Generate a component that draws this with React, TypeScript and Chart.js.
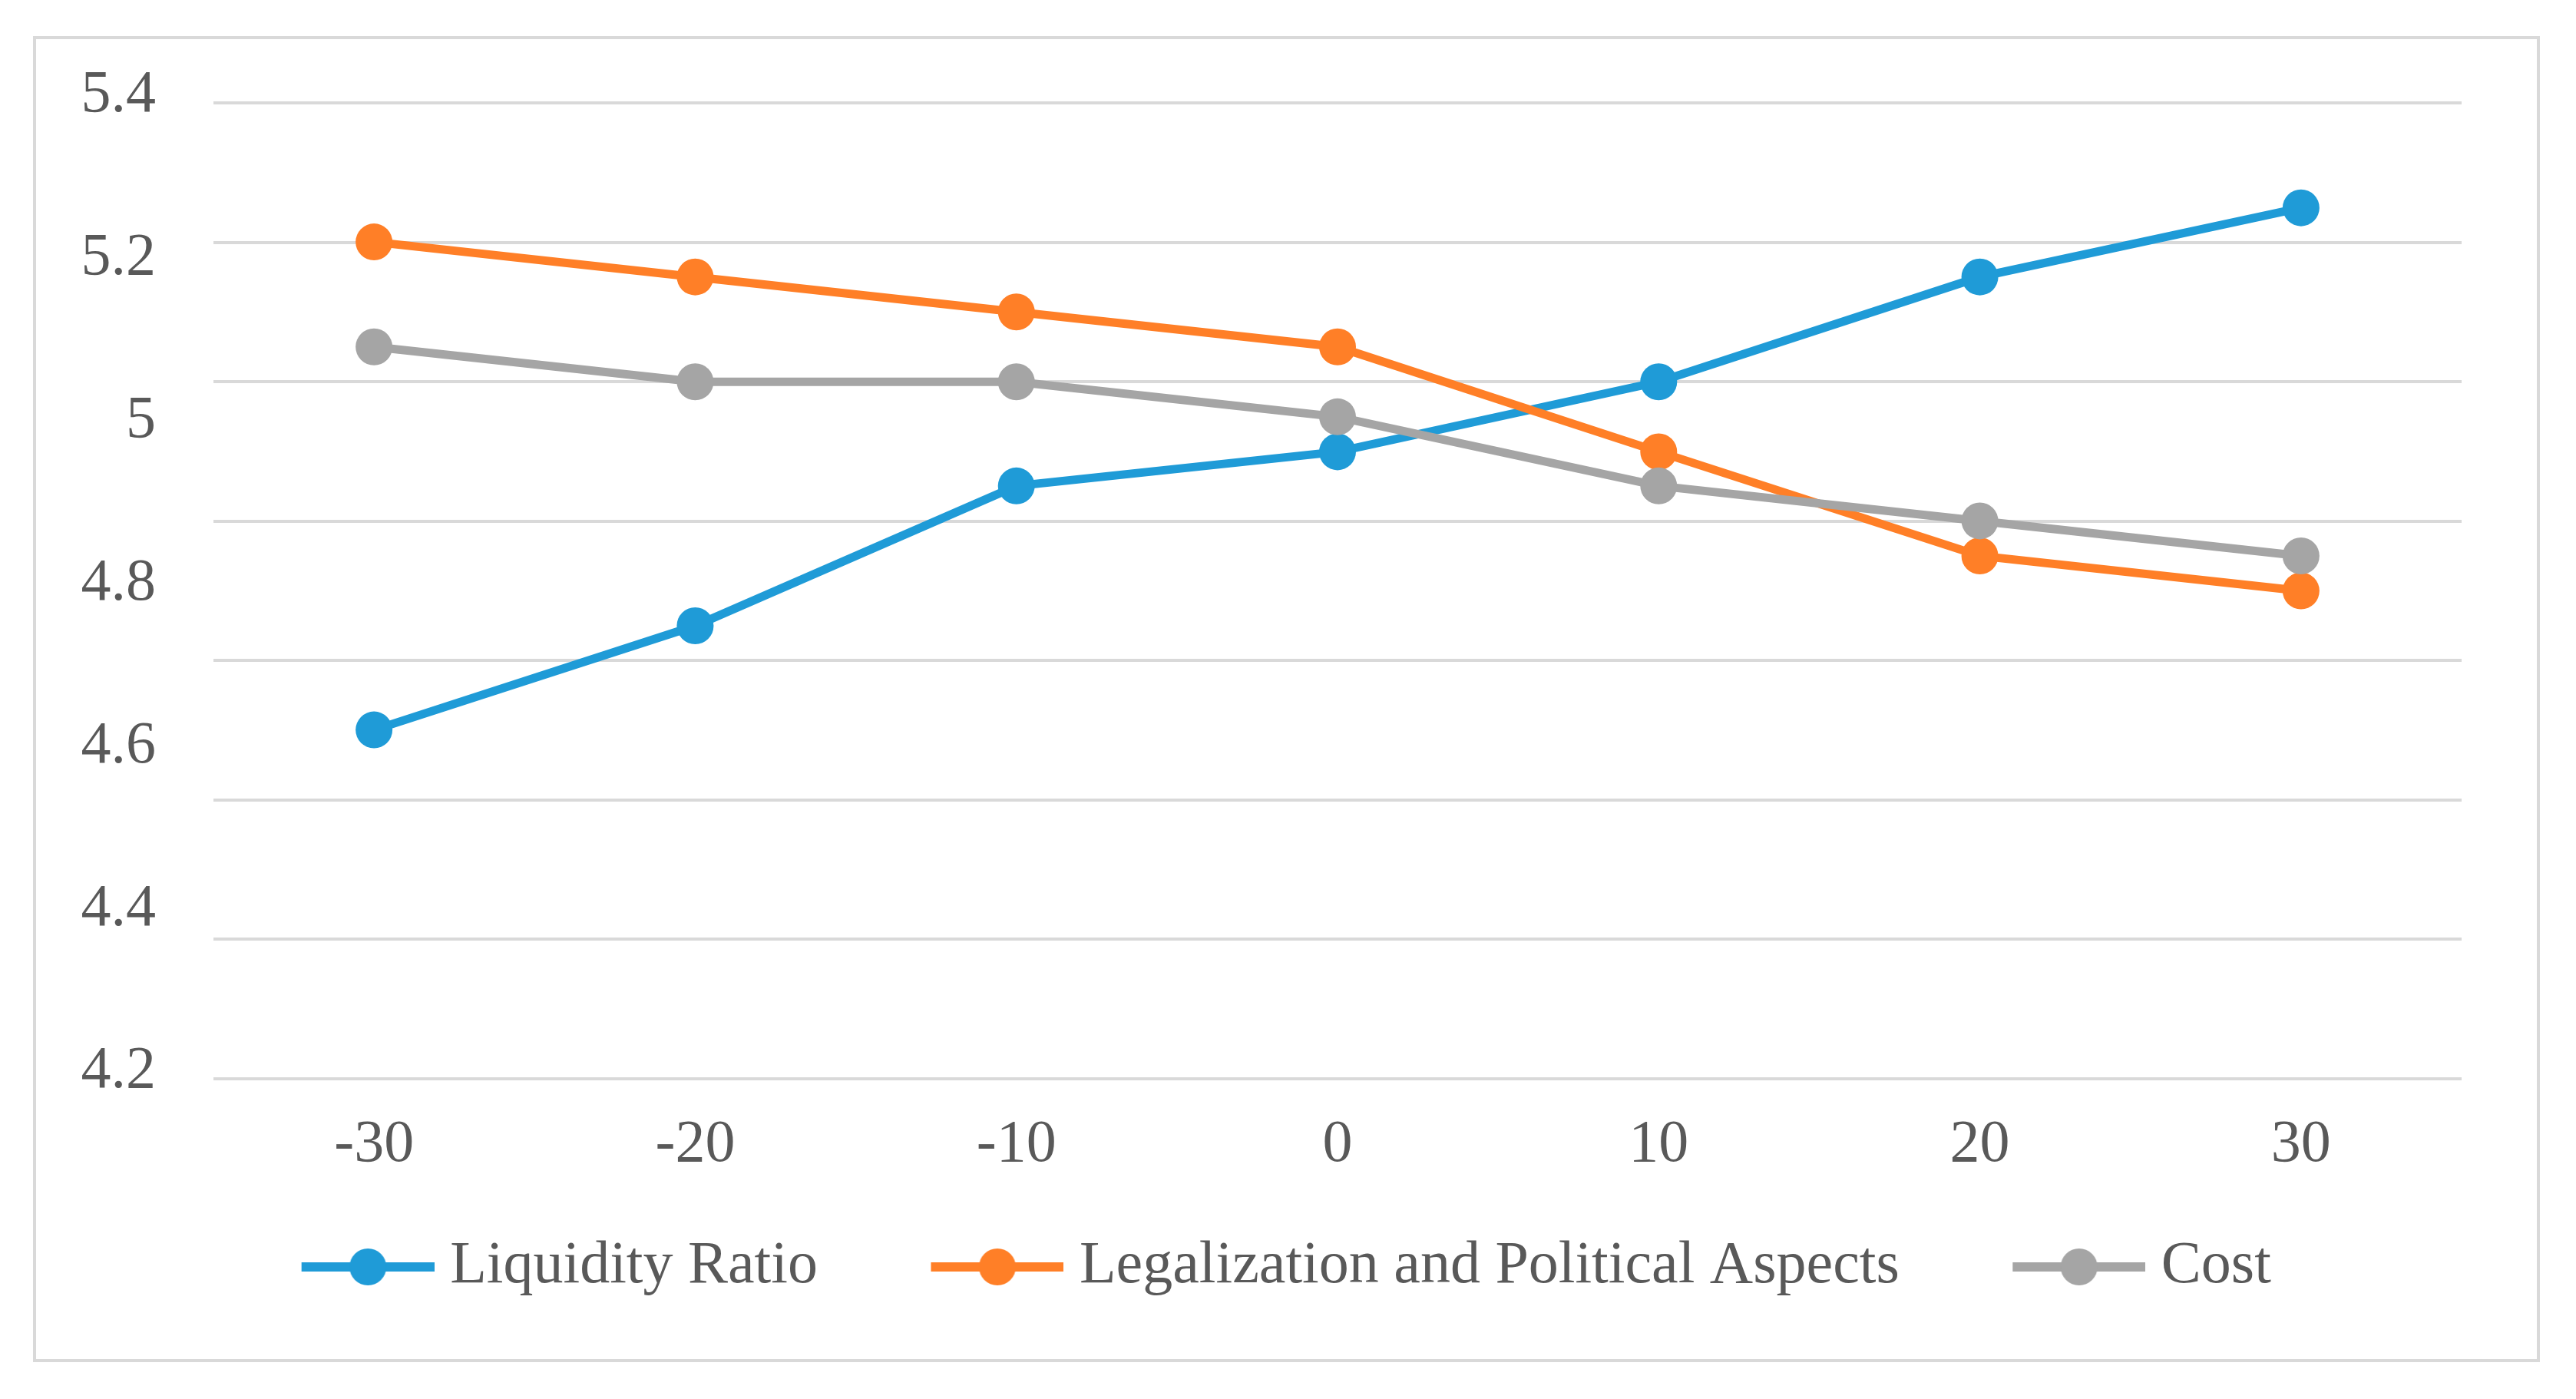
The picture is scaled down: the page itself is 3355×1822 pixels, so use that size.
import React, { useEffect, useRef } from 'react';
import { Chart, registerables } from 'chart.js';

Chart.register(...registerables);

const categories = ['-30', '-20', '-10', '0', '10', '20', '30'];
const liquidityRatio = [4.629, 4.757, 4.929, 4.971, 5.057, 5.186, 5.271];
const legalizationPolitical = [5.229, 5.186, 5.143, 5.1, 4.971, 4.843, 4.8];
const cost = [5.1, 5.057, 5.057, 5.014, 4.929, 4.886, 4.843];
const yTickLabels = [4.2, 4.4, 4.6, 4.8, 5.0, 5.2, 5.4];
const seriesNames = ['Liquidity Ratio', 'Legalization and Political Aspects', 'Cost'];
const seriesColors = ['#1F9BD7', '#FF7F27', '#A5A5A5'];

const Y_MIN = 4.2;
const Y_MAX = 5.4;
const GRID_COUNT = 8;
const FONT_FAMILY = "'Liberation Serif', 'Times New Roman', serif";
const TEXT_COLOR = '#595959';
const GRID_COLOR = '#D9D9D9';

// legend box: leading gap + marker area
const LEGEND_GAP = 94;
const LEGEND_BOX = 136 + LEGEND_GAP;

function makeMarker(color: string): HTMLCanvasElement {
  const c = document.createElement('canvas');
  c.width = LEGEND_BOX + 37;
  c.height = 52;
  const ctx = c.getContext('2d')!;
  const cx = LEGEND_BOX - 49.5;
  ctx.strokeStyle = color;
  ctx.lineWidth = 12;
  ctx.beginPath();
  ctx.moveTo(cx - 86.5, 26);
  ctx.lineTo(cx + 86.5, 26);
  ctx.stroke();
  ctx.fillStyle = color;
  ctx.beginPath();
  ctx.arc(cx, 26, 24, 0, Math.PI * 2);
  ctx.fill();
  return c;
}

export default function App() {
  const ref = useRef<HTMLCanvasElement | null>(null);

  useEffect(() => {
    if (!ref.current) return;
    const markers = seriesColors.map(makeMarker);
    const font = { family: FONT_FAMILY, size: 78 };
    const seriesData = [liquidityRatio, legalizationPolitical, cost];
    const chart = new Chart(ref.current, {
      type: 'line',
      data: {
        labels: categories,
        datasets: seriesData.map((d, i) => ({
          label: seriesNames[i],
          data: d,
          borderColor: seriesColors[i],
          backgroundColor: seriesColors[i],
          borderWidth: 11,
          pointRadius: 24,
          pointHoverRadius: 24,
          pointBorderWidth: 0,
          pointBackgroundColor: seriesColors[i],
          tension: 0,
          yAxisID: 'y',
          order: 3 - i,
        })),
      },
      options: {
        responsive: false,
        animation: false,
        devicePixelRatio: 1,
        layout: { padding: { top: 134, left: 0, right: 80, bottom: 123 } },
        plugins: {
          tooltip: { enabled: false },
          legend: {
            position: 'bottom',
            labels: {
              usePointStyle: true,
              pointStyleWidth: LEGEND_BOX,
              padding: 72,
              font,
              color: TEXT_COLOR,
              sort: (a: any, b: any) => a.datasetIndex - b.datasetIndex,
              generateLabels: (ch: any) =>
                Chart.defaults.plugins.legend.labels
                  .generateLabels(ch)
                  .map((l: any) => ({ ...l, pointStyle: markers[l.datasetIndex], fontColor: TEXT_COLOR })),
            },
          },
        },
        scales: {
          x: {
            type: 'category',
            offset: true,
            grid: { display: false, drawTicks: false },
            border: { display: false },
            ticks: { font, color: TEXT_COLOR, padding: 40, maxRotation: 0, autoSkip: false },
            afterFit: (s: any) => {
              s.height = 134;
            },
          },
          y: {
            type: 'linear',
            position: 'left',
            min: Y_MIN,
            max: Y_MAX,
            grid: { display: false, drawTicks: false },
            border: { display: false },
            afterBuildTicks: (s: any) => {
              s.ticks = yTickLabels.map((v) => ({ value: v }));
            },
            ticks: {
              font,
              color: TEXT_COLOR,
              padding: 75,
              labelOffset: -9,
              callback: (v: any) => String(Number(Number(v).toFixed(1))),
            },
            afterFit: (s: any) => {
              s.width = 278;
            },
          },
          yGrid: {
            type: 'linear',
            position: 'right',
            min: Y_MIN,
            max: Y_MAX,
            grid: { color: GRID_COLOR, lineWidth: 4, drawTicks: false },
            border: { display: false },
            ticks: { display: false },
            afterBuildTicks: (s: any) => {
              const step = (Y_MAX - Y_MIN) / (GRID_COUNT - 1);
              s.ticks = Array.from({ length: GRID_COUNT }, (_, k) => ({ value: Y_MIN + k * step }));
            },
            afterFit: (s: any) => {
              s.width = 69;
            },
          },
        },
      },
    });
    return () => chart.destroy();
  }, []);

  return (
    <div style={{ position: 'absolute', left: 0, top: 0, width: 3355, height: 1822, background: '#fff' }}>
      <canvas ref={ref} width={3355} height={1822} style={{ display: 'block', width: 3355, height: 1822 }} />
      <div
        style={{
          position: 'absolute',
          left: 43,
          top: 47,
          width: 3265,
          height: 1727,
          border: `4px solid ${GRID_COLOR}`,
          boxSizing: 'border-box',
          pointerEvents: 'none',
        }}
      />
    </div>
  );
}
